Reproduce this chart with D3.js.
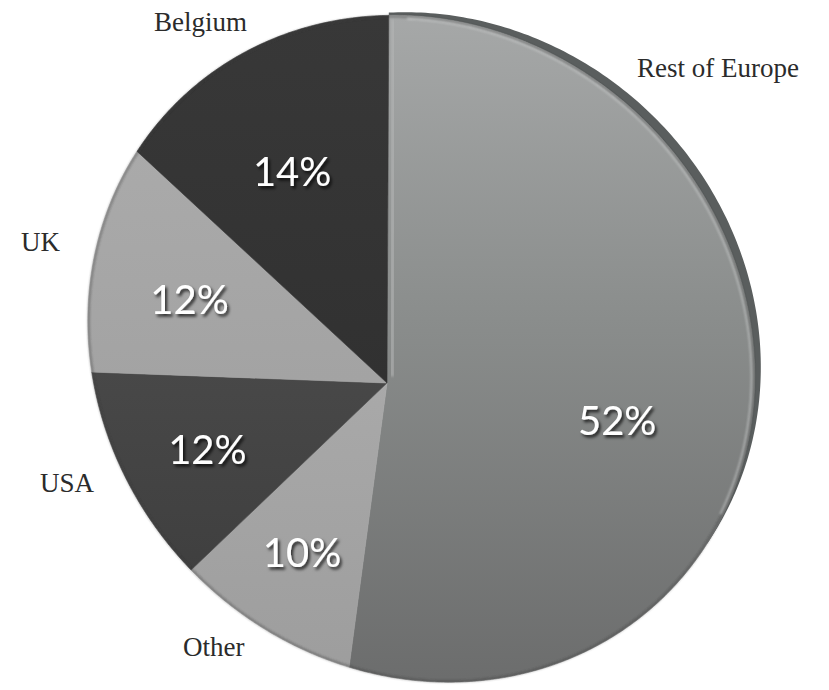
<!DOCTYPE html>
<html>
<head>
<meta charset="utf-8">
<script src="https://cdn.jsdelivr.net/npm/d3@7"></script>
<style>
  html, body { margin: 0; padding: 0; background: #ffffff; }
  svg { display: block; }
</style>
</head>
<body>
<svg id="chart" width="829" height="690"></svg>
<script>
// Market shares, listed clockwise from twelve o'clock
const categories = ["Rest of Europe", "Other", "USA", "UK", "Belgium"];
const shares = [52, 10, 12, 12, 14];
const shareLabels = ["52%", "10%", "12%", "12%", "14%"];

// Name labels sit outside the disc (left x, baseline y)
const nameLayout = {
  "Rest of Europe": [637, 77],
  "Belgium": [154, 31],
  "UK": [21, 251],
  "USA": [40, 492],
  "Other": [183, 656]
};

const fills = {
  "Rest of Europe": "url(#gradRest)",
  "Other": "url(#gradOther)",
  "USA": "url(#gradUSA)",
  "UK": "url(#gradUK)",
  "Belgium": "url(#gradBelgium)"
};

const svg = d3.select("#chart");

// ---- tilted-disc projection: the pie is hinged on a diagonal axis and
// leans its upper-right half towards the viewer, seen in perspective ----
const hub = [387, 383];
const R = 343;
const tilt = 24.6 * Math.PI / 180;
const eye = 941;
const cT = Math.cos(tilt), sT = Math.sin(tilt);
const tDir = [Math.SQRT1_2, -Math.SQRT1_2];   // leaning direction
const sDir = [Math.SQRT1_2, Math.SQRT1_2];    // hinge axis
function project(angle, r) {
  const X = r * Math.sin(angle), Y = -r * Math.cos(angle);
  const w = X * tDir[0] + Y * tDir[1];
  const z = X * sDir[0] + Y * sDir[1];
  const k = eye / (eye - w * sT);
  return [hub[0] + k * (z * sDir[0] + w * cT * tDir[0]),
          hub[1] + k * (z * sDir[1] + w * cT * tDir[1])];
}

const rot = 3 * Math.PI / 180;
const data = categories.map((c, i) => ({ name: c, value: shares[i], label: shareLabels[i] }));
const pie = d3.pie().value(d => d.value).sort(null).startAngle(rot).endAngle(2 * Math.PI + rot);
const arcs = pie(data);

const radius = d3.scaleLinear().domain([0, 1]).range([0, R]);
const line = d3.line().curve(d3.curveLinearClosed);
const openLine = d3.line();

function arcPoints(a0, a1, r) {
  const n = Math.max(8, Math.ceil((a1 - a0) / 0.01));
  return d3.range(n + 1).map(i => project(a0 + (a1 - a0) * i / n, r));
}

// ---- defs: gradients and filters ----
const defs = svg.append("defs");
function vGrad(id, stops, y1, y2) {
  const g = defs.append("linearGradient").attr("id", id)
    .attr("gradientUnits", "userSpaceOnUse")
    .attr("x1", 0).attr("x2", 0).attr("y1", y1).attr("y2", y2);
  stops.forEach(([o, c]) => g.append("stop").attr("offset", o).attr("stop-color", c));
}
vGrad("gradRest", [[0, "#a6a8a8"], [0.45, "#8a8d8c"], [1, "#6b6c6c"]], 15, 690);
vGrad("gradOther", [[0, "#a9a9a9"], [1, "#9d9d9d"]], 380, 680);
vGrad("gradUSA", [[0, "#484848"], [1, "#3e3e3e"]], 370, 600);
vGrad("gradUK", [[0, "#aaaaaa"], [1, "#a3a3a3"]], 150, 380);
vGrad("gradBelgium", [[0, "#383838"], [1, "#313131"]], 15, 380);

const shadow = defs.append("filter").attr("id", "txtShadow")
  .attr("x", "-20%").attr("y", "-20%").attr("width", "140%").attr("height", "160%");
shadow.append("feDropShadow").attr("dx", 2).attr("dy", 2.5)
  .attr("stdDeviation", 1.6).attr("flood-color", "#000").attr("flood-opacity", 0.75);

const soft = defs.append("filter").attr("id", "soft")
  .attr("x", "-5%").attr("y", "-5%").attr("width", "110%").attr("height", "110%");
soft.append("feGaussianBlur").attr("stdDeviation", 1.2);

// ---- side wall of the near rim (upper right) ----
const rest = arcs[0];
const rimSpan = 112 * Math.PI / 180;
const rimN = 160;
const rimOuter = d3.range(rimN + 1).map(i => {
  const t = i / rimN;
  const a = rest.startAngle + rimSpan * t;
  const wpx = 7.5 * Math.sin(Math.PI * (0.1 + 0.9 * t));
  return project(a, radius(1) + wpx);
});
const rimInner = arcPoints(rest.startAngle, rest.startAngle + rimSpan, radius(1) - 0.5).reverse();
svg.append("path")
  .attr("d", line(rimOuter.concat(rimInner)))
  .attr("fill", "#5a5e5e");

// ---- slices ----
const slices = svg.append("g");
slices.selectAll("path.slice")
  .data(arcs)
  .join("path")
  .attr("class", "slice")
  .attr("d", d => line([hub].concat(arcPoints(d.startAngle, d.endAngle, radius(1)))))
  .attr("fill", d => fills[d.data.name])
  .attr("stroke", d => fills[d.data.name])
  .attr("stroke-width", 0.6);

// soft darker edge around the disc
svg.append("path")
  .attr("d", line(arcPoints(rot, rot + 2 * Math.PI, radius(1) - 1)))
  .attr("fill", "none")
  .attr("stroke", "#3a3a3a")
  .attr("stroke-opacity", 0.45)
  .attr("stroke-width", 2)
  .attr("filter", "url(#soft)");

// light bevel along the near rim
svg.append("path")
  .attr("d", openLine(arcPoints(rest.startAngle + 0.05, rest.startAngle + rimSpan * 0.95, radius(1) - 2.5)))
  .attr("fill", "none")
  .attr("stroke", "#d2d4d4")
  .attr("stroke-opacity", 0.75)
  .attr("stroke-width", 1.6)
  .attr("filter", "url(#soft)");

// light bevel along the straight edge of the large slice
svg.append("path")
  .attr("d", openLine([project(rest.startAngle, radius(0.02)), project(rest.startAngle, radius(0.99))]))
  .attr("transform", "translate(5,0)")
  .attr("fill", "none")
  .attr("stroke", "#b4b6b6")
  .attr("stroke-opacity", 0.6)
  .attr("stroke-width", 5)
  .attr("filter", "url(#soft)");

// ---- percentage labels inside the slices ----
svg.append("g")
  .selectAll("text")
  .data(arcs)
  .join("text")
  .attr("x", d => project((d.startAngle + d.endAngle) / 2, radius(0.66))[0])
  .attr("y", d => project((d.startAngle + d.endAngle) / 2, radius(0.66))[1])
  .attr("text-anchor", "middle")
  .attr("dominant-baseline", "central")
  .attr("font-family", "Lato, 'Open Sans', sans-serif")
  .attr("font-size", 40)
  .attr("fill", "#ffffff")
  .attr("filter", "url(#txtShadow)")
  .text(d => d.data.label);

// ---- category names ----
svg.append("g")
  .selectAll("text")
  .data(categories)
  .join("text")
  .attr("x", d => nameLayout[d][0])
  .attr("y", d => nameLayout[d][1])
  .attr("font-family", "'Liberation Serif', 'DejaVu Serif', serif")
  .attr("font-size", 27)
  .attr("fill", "#2b2b2b")
  .text(d => d);
</script>
</body>
</html>
